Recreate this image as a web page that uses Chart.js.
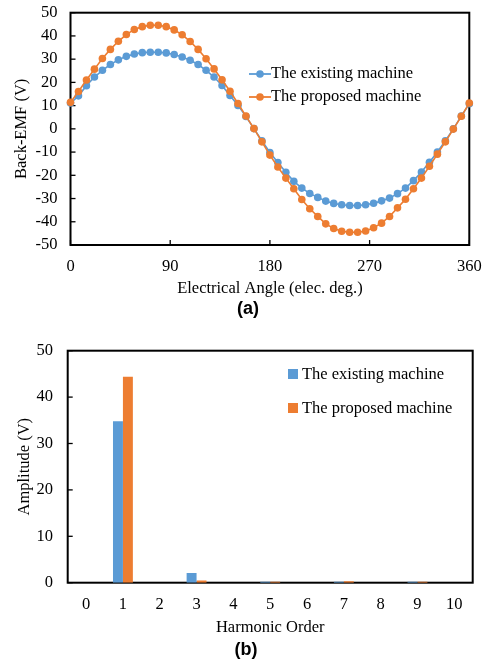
<!DOCTYPE html>
<html>
<head>
<meta charset="utf-8">
<script src="https://cdn.jsdelivr.net/npm/chart.js@4.4.1/dist/chart.umd.min.js"></script>
<style>
  body { margin: 0; background: #fff; }
  #page { position: relative; width: 487px; height: 662px; background: #fff; font-family: 'Liberation Serif', 'Times New Roman', serif; }
  #page canvas { position: absolute; left: 0; }
  .lg { position: absolute; font-size: 16.5px; line-height: 20px; white-space: nowrap; color: #000; }
  .lg svg, .lg i { vertical-align: middle; }
  .lg i { display: inline-block; width: 10px; height: 10px; margin: -3px 4px 0 0; }
  .cap { position: absolute; font: bold 18px 'Liberation Sans', Arial, sans-serif; color: #000; transform: translate(-50%, -50%); }
</style>
</head>
<body>
<div id="page">
  <canvas id="emfChart" width="487" height="300" style="top:0"></canvas>
  <canvas id="harmonicChart" width="487" height="342" style="top:320px"></canvas>

  <div class="lg" style="left:249px;top:62.5px"><svg width="22" height="10"><line x1="0" y1="5" x2="22" y2="5" stroke="#5B9BD5" stroke-width="1.8"/><circle cx="11" cy="5" r="3.8" fill="#5B9BD5"/></svg>The existing machine</div>
  <div class="lg" style="left:249px;top:86px"><svg width="22" height="10"><line x1="0" y1="5" x2="22" y2="5" stroke="#ED7D31" stroke-width="1.8"/><circle cx="11" cy="5" r="3.8" fill="#ED7D31"/></svg>The proposed machine</div>
  <div class="cap" style="left:248px;top:308px">(a)</div>

  <div class="lg" style="left:288px;top:364px"><i style="background:#5B9BD5"></i>The existing machine</div>
  <div class="lg" style="left:288px;top:398px"><i style="background:#ED7D31"></i>The proposed machine</div>
  <div class="cap" style="left:246px;top:649px">(b)</div>
</div>

<script>
// Back-EMF waveforms, one point every 7.2 elec. deg.
const angles = [0, 7.2, 14.4, 21.6, 28.8, 36, 43.2, 50.4, 57.6, 64.8,
  72, 79.2, 86.4, 93.6, 100.8, 108, 115.2, 122.4, 129.6, 136.8,
  144, 151.2, 158.4, 165.6, 172.8, 180, 187.2, 194.4, 201.6, 208.8,
  216, 223.2, 230.4, 237.6, 244.8, 252, 259.2, 266.4, 273.6, 280.8,
  288, 295.2, 302.4, 309.6, 316.8, 324, 331.2, 338.4, 345.6, 352.8, 360];

const existingEmf = [11.1, 14.2, 18.6, 22.3, 25.2, 27.7, 29.7, 31.2, 32.2, 32.8,
  33.0, 33.0, 32.7, 32.0, 30.9, 29.5, 27.7, 25.2, 22.3, 18.7,
  14.4, 10.1, 5.3, 0.1, -5.1, -10.2, -14.5, -18.7, -22.6, -25.5,
  -27.8, -29.5, -31.1, -32.1, -32.7, -33.0, -33.0, -32.7, -32.0, -31.0,
  -29.8, -27.9, -25.5, -22.3, -18.6, -14.4, -10.0, -5.1, 0.0, 5.5, 10.8];

const proposedEmf = [11.4, 16.1, 21.0, 25.7, 30.3, 34.2, 37.7, 40.6, 42.8, 44.0,
  44.6, 44.6, 44.0, 42.6, 40.5, 37.6, 34.2, 30.2, 25.8, 21.1,
  16.2, 10.9, 5.5, 0.1, -5.6, -11.3, -16.4, -21.2, -25.8, -30.4,
  -34.4, -37.7, -40.9, -42.9, -44.1, -44.5, -44.5, -44.0, -42.6, -40.6,
  -37.7, -34.0, -30.3, -25.8, -21.2, -16.1, -10.9, -5.6, -0.1, 5.4, 11.1];

// Harmonic spectrum
const harmonicOrders = ['0', '1', '2', '3', '4', '5', '6', '7', '8', '9', '10'];
const existingHarm = [0, 34.8, 0, 2.1, 0, 0.2, 0, 0.2, 0, 0.2, 0];
const proposedHarm = [0, 44.4, 0, 0.5, 0, 0.2, 0, 0.3, 0, 0.2, 0];

const BLUE = '#5B9BD5';
const ORANGE = '#ED7D31';
const SERIF = "'Liberation Serif', 'Times New Roman', serif";
const tickFont = { family: SERIF, size: 16.5, lineHeight: 1.2 };

// black box round the plot, with short inward tick marks
const frameAndTicks = {
    id: 'frameAndTicks',
    beforeDatasetsDraw(chart, args, opts) {
        const { ctx, chartArea: a, scales } = chart;
        ctx.save();
        ctx.strokeStyle = '#000';
        ctx.lineWidth = 1.3;
        (opts.axes || []).forEach(id => {
            const s = scales[id];
            s.ticks.forEach(t => {
                const p = s.getPixelForValue(t.value);
                ctx.beginPath();
                if (s.isHorizontal()) {
                    ctx.moveTo(p, a.bottom);
                    ctx.lineTo(p, a.bottom - 5);
                } else {
                    ctx.moveTo(a.left, p);
                    ctx.lineTo(a.left + 5, p);
                }
                ctx.stroke();
            });
        });
        ctx.lineWidth = 2;
        ctx.strokeRect(a.left, a.top, a.right - a.left, a.bottom - a.top);
        ctx.restore();
    }
};

function axisTitle(text, padding) {
    return { display: true, text: text, color: '#000', font: tickFont, padding: padding };
}

// fixed axis sizes, and no extra room for labels that stick out at the ends
function fixWidth(w) {
    return s => { s.width = w; s.paddingTop = 0; s.paddingBottom = 0; };
}
function fixHeight(h) {
    return s => { s.height = h; s.paddingLeft = 0; s.paddingRight = 0; };
}

new Chart(document.getElementById('emfChart'), {
    type: 'line',
    data: {
        datasets: [{
            label: 'The existing machine',
            data: angles.map((a, i) => ({ x: a, y: existingEmf[i] })),
            borderColor: BLUE,
            backgroundColor: BLUE,
            borderWidth: 1.6,
            pointRadius: 3.8,
            pointBorderWidth: 0,
            order: 1,
            clip: false
        }, {
            label: 'The proposed machine',
            data: angles.map((a, i) => ({ x: a, y: proposedEmf[i] })),
            borderColor: ORANGE,
            backgroundColor: ORANGE,
            borderWidth: 1.6,
            pointRadius: 3.8,
            pointBorderWidth: 0,
            order: 0,
            clip: false
        }]
    },
    options: {
        responsive: false,
        animation: false,
        layout: { padding: { top: 12.7, right: 17.7, left: 0, bottom: 0 } },
        scales: {
            x: {
                type: 'linear',
                min: 0,
                max: 360,
                grid: { display: false, drawTicks: false },
                border: { display: false },
                ticks: { stepSize: 90, autoSkip: false, maxRotation: 0, padding: 11.5, color: '#000', font: tickFont },
                title: axisTitle('Electrical Angle (elec. deg.)', { top: 0, bottom: 1 }),
                afterFit: fixHeight(55)
            },
            y: {
                min: -50,
                max: 50,
                grid: { display: false, drawTicks: false },
                border: { display: false },
                ticks: { stepSize: 10, autoSkip: false, padding: 13, color: '#000', font: tickFont },
                title: axisTitle('Back-EMF (V)', { top: 12, bottom: 0 }),
                afterFit: fixWidth(70.5)
            }
        },
        plugins: {
            legend: { display: false },
            tooltip: { enabled: false },
            frameAndTicks: { axes: ['x', 'y'] }
        }
    },
    plugins: [frameAndTicks]
});

new Chart(document.getElementById('harmonicChart'), {
    type: 'bar',
    data: {
        labels: harmonicOrders,
        datasets: [{
            label: 'The existing machine',
            data: existingHarm,
            backgroundColor: BLUE
        }, {
            label: 'The proposed machine',
            data: proposedHarm,
            backgroundColor: ORANGE
        }]
    },
    options: {
        responsive: false,
        animation: false,
        categoryPercentage: 0.54,
        barPercentage: 1.0,
        layout: { padding: { top: 30.7, right: 14.3, left: 0, bottom: 0 } },
        scales: {
            x: {
                grid: { display: false, drawTicks: false },
                border: { display: false },
                ticks: { autoSkip: false, maxRotation: 0, padding: 12.4, color: '#000', font: tickFont },
                title: axisTitle('Harmonic Order', { top: 0, bottom: 24 }),
                afterFit: fixHeight(79.3)
            },
            y: {
                min: 0,
                max: 50,
                grid: { display: false, drawTicks: false },
                border: { display: false },
                ticks: { stepSize: 10, autoSkip: false, padding: 14.7, color: '#000', font: tickFont },
                title: axisTitle('Amplitude (V)', { top: 15, bottom: 0 }),
                afterFit: fixWidth(67.7)
            }
        },
        plugins: {
            legend: { display: false },
            tooltip: { enabled: false },
            frameAndTicks: { axes: ['y'] }
        }
    },
    plugins: [frameAndTicks]
});
</script>
</body>
</html>
